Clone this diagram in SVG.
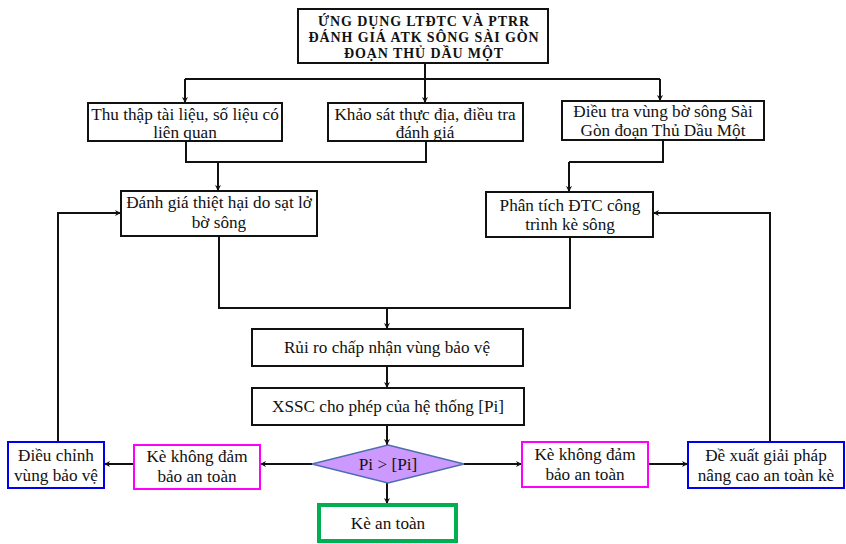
<svg xmlns="http://www.w3.org/2000/svg" width="846" height="544" viewBox="0 0 846 544" font-family="'Liberation Serif', 'DejaVu Serif', serif">
  <style>
    text { font-family: 'Liberation Serif', 'DejaVu Serif', serif; font-size: 17.2px; fill: #111; text-anchor: middle; }
    .title { font-weight: bold; font-size: 14px; letter-spacing: 0.9px; }
    .box { fill: #fff; stroke: #111; stroke-width: 2; }
    .pink { fill: #fff; stroke: #ff00ff; stroke-width: 2; }
    .blue { fill: #fff; stroke: #0000ee; stroke-width: 2; }
    .green { fill: #fff; stroke: #00b050; stroke-width: 4; }
    .dia { fill: #cc99ff; stroke: #4f6eb0; stroke-width: 1.5; }
    .wire { fill: none; stroke: #111; stroke-width: 2; }
  </style>
  <defs>
    <marker id="arr" viewBox="0 0 10 10" refX="10" refY="5" markerWidth="5" markerHeight="5" markerUnits="userSpaceOnUse" orient="auto" overflow="visible">
      <path d="M0,0 L10,5 L0,10 L3,5 z" fill="#111" transform="scale(1.2) translate(-1.7,-0.8)"/>
    </marker>
  </defs>
  <rect width="846" height="544" fill="#fff"/>

  <!-- connectors -->
  <g id="connectors" class="wire">
    <path d="M425,63 V79" />
    <path d="M185,79 H660" />
    <path d="M185,79 V103" marker-end="url(#arr)"/>
    <path d="M425,79 V103" marker-end="url(#arr)"/>
    <path d="M660,79 V101" marker-end="url(#arr)"/>
    <path d="M186,141 V162 H426 V141"/>
    <path d="M218,162 V191" marker-end="url(#arr)"/>
    <path d="M663,140 V162 H569"/>
    <path d="M569,162 V192" marker-end="url(#arr)"/>
    <path d="M219,236 V308 H570 V237"/>
    <path d="M387,308 V329" marker-end="url(#arr)"/>
    <path d="M387,366 V388" marker-end="url(#arr)"/>
    <path d="M387,425 V445" marker-end="url(#arr)"/>
    <path d="M387,483 V504" marker-end="url(#arr)"/>
    <path d="M312,464 H260" marker-end="url(#arr)"/>
    <path d="M134,464 H104" marker-end="url(#arr)"/>
    <path d="M464,464 H522" marker-end="url(#arr)"/>
    <path d="M648,464 H688" marker-end="url(#arr)"/>
    <path d="M58,442 V213 H121" marker-end="url(#arr)"/>
    <path d="M770,442 V213 H653" marker-end="url(#arr)"/>
  </g>

  <g id="title">
    <rect class="box" x="298" y="9" width="250" height="54"/>
    <text class="title" x="424" y="26">ỨNG DỤNG LTĐTC VÀ PTRR</text>
    <text class="title" x="424" y="42">ĐÁNH GIÁ ATK SÔNG SÀI GÒN</text>
    <text class="title" x="424" y="58">ĐOẠN THỦ DẦU MỘT</text>
  </g>

  <g id="thu-thap">
    <rect class="box" x="88" y="103" width="194" height="38"/>
    <text x="185" y="120">Thu thập tài liệu, số liệu có</text>
    <text x="185" y="138">liên quan</text>
  </g>

  <g id="khao-sat">
    <rect class="box" x="328" y="103" width="195" height="38"/>
    <text x="425" y="120">Khảo sát thực địa, điều tra</text>
    <text x="425" y="138">đánh giá</text>
  </g>

  <g id="dieu-tra">
    <rect class="box" x="562" y="101" width="202" height="39"/>
    <text x="663" y="117">Điều tra vùng  bờ sông Sài</text>
    <text x="663" y="136">Gòn đoạn Thủ Dầu Một</text>
  </g>

  <g id="danh-gia">
    <rect class="box" x="121" y="191" width="196" height="45"/>
    <text x="219" y="208">Đánh giá thiệt hại do sạt lở</text>
    <text x="219" y="228">bờ sông</text>
  </g>

  <g id="phan-tich">
    <rect class="box" x="486" y="192" width="167" height="45"/>
    <text x="570" y="211">Phân tích ĐTC công</text>
    <text x="570" y="230">trình kè sông</text>
  </g>

  <g id="rui-ro">
    <rect class="box" x="252" y="329" width="271" height="37"/>
    <text x="387" y="353">Rủi ro chấp nhận vùng bảo vệ</text>
  </g>

  <g id="xssc">
    <rect class="box" x="252" y="388" width="272" height="37"/>
    <text x="388" y="412">XSSC cho phép của hệ thống [Pi]</text>
  </g>

  <g id="so-sanh">
    <polygon class="dia" points="388,445 464,464 388,483 312,464"/>
    <text x="388" y="470">Pi &gt; [Pi]</text>
  </g>

  <g id="ke-an-toan">
    <rect class="green" x="319" y="505" width="137" height="36"/>
    <text x="388" y="529">Kè an toàn</text>
  </g>

  <g id="khong-dam-bao-trai">
    <rect class="pink" x="134" y="445" width="126" height="44"/>
    <text x="197" y="462">Kè không đảm</text>
    <text x="197" y="482">bảo an toàn</text>
  </g>

  <g id="dieu-chinh">
    <rect class="blue" x="8" y="442" width="96" height="46"/>
    <text x="56" y="461">Điều chỉnh</text>
    <text x="56" y="481">vùng bảo vệ</text>
  </g>

  <g id="khong-dam-bao-phai">
    <rect class="pink" x="522" y="442" width="126" height="45"/>
    <text x="585" y="460">Kè không đảm</text>
    <text x="585" y="480">bảo an toàn</text>
  </g>

  <g id="de-xuat">
    <rect class="blue" x="688" y="442" width="156" height="46"/>
    <text x="766" y="461">Đề xuất giải pháp</text>
    <text x="766" y="481">nâng cao an toàn kè</text>
  </g>
</svg>
